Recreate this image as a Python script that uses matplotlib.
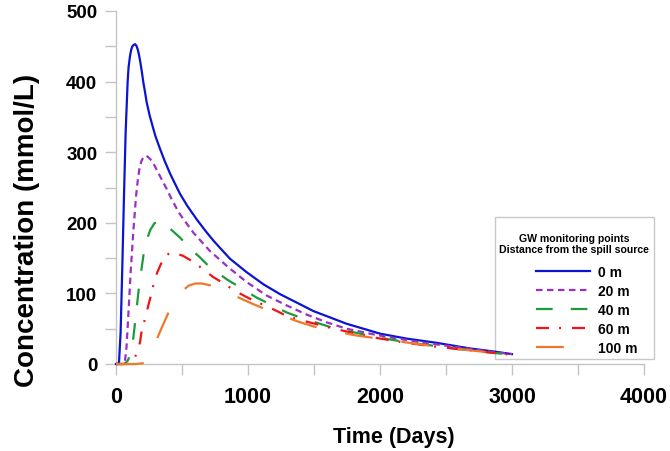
import matplotlib
matplotlib.use("Agg")
import matplotlib.pyplot as plt
from matplotlib.ticker import MultipleLocator

plt.rcParams['font.family'] = ['Liberation Sans', 'DejaVu Sans']
plt.rcParams['lines.scale_dashes'] = False

# ---- data ----
days_0m = [0, 15, 23, 35, 48, 60, 73, 88, 95, 106, 115, 124, 134, 144, 154, 164, 173, 182, 195, 207,
           220, 232, 255, 283, 300, 333, 370, 409, 440, 485, 540, 611, 680, 737, 800, 864, 990, 1116,
           1242, 1369, 1495, 1621, 1747, 1874, 2000, 2200, 2429, 2682, 2850, 3000]
conc_0m = [0, 0, 3, 45, 139, 234, 328, 399, 420, 436, 445, 450, 452, 453, 451, 446, 439, 430, 415, 399,
           385, 371, 352, 333, 322, 305, 287, 270, 258, 241, 224, 205, 188, 175, 162, 149, 130, 113,
           99, 87, 75, 66, 57, 50, 43, 36, 30, 22, 18, 14]

days_20m = [0, 55, 68, 80, 93, 111, 131, 152, 165, 177, 190, 202, 214, 225, 237, 250, 270, 295, 320,
            350, 384, 420, 460, 485, 586, 712, 851, 990, 1141, 1293, 1444, 1596, 1747, 1949, 2100,
            2300, 2500, 2700, 2850, 3000]
conc_20m = [0, 0, 4, 25, 68, 130, 187, 238, 260, 276, 286, 291, 294, 295, 294, 292, 288, 280, 271,
            260, 248, 234, 220, 212, 186, 160, 137, 116, 97, 83, 70, 59, 50, 42, 37,
            31, 26, 21, 17, 14]

days_40m = [0, 60, 75, 90, 110, 130, 150, 170, 190, 210, 235, 260, 290, 320, 360, 420, 485, 560, 636,
            700, 838, 927, 1066, 1154, 1293, 1394, 1545, 1646, 1798, 1924, 2000, 2200, 2400, 2600, 2800, 3000]
conc_40m = [0, 0, 2, 5, 15, 35, 68, 102, 130, 157, 177, 190, 199, 203, 199, 190, 179, 164, 151,
            139, 120, 110, 94, 86, 73, 66, 57, 51, 45, 40, 37, 31, 26, 21, 17, 13]

days_60m = [0, 100, 120, 145, 165, 182, 197, 220, 245, 270, 290, 313, 346, 380, 409, 450, 510, 573, 656,
            737, 801, 889, 977, 1040, 1141, 1230, 1293, 1400, 1508, 1650, 1773, 1900, 2000, 2200, 2400,
            2600, 2800, 3000]
conc_60m = [0, 0, 2, 10, 20, 31, 50, 64, 83, 101, 117, 130, 144, 153, 158, 157, 153, 146, 135,
            123, 116, 105, 96, 90, 82, 74, 68, 62, 57, 50, 45, 40, 36, 30, 25,
            21, 17, 13]

days_100m = [0, 150, 200, 230, 260, 290, 320, 360, 410, 450, 500, 550, 600, 650, 700, 750, 850, 965,
             1050, 1154, 1250, 1381, 1500, 1571, 1700, 1800, 1950, 2100, 2300, 2500, 2700, 2850, 3000]
conc_100m = [0, 0, 1, 3, 12, 25, 40, 57, 78, 92, 103, 111, 114, 114, 112, 110, 101, 91,
             84, 76, 69, 60, 53, 50, 45, 41, 37, 33, 28, 23, 19, 16, 13]

labels = ['0 m', '20 m', '40 m', '60 m', '100 m']
x_ticks = [0, 1000, 2000, 3000, 4000]
y_ticks = [0, 100, 200, 300, 400, 500]

# ---- styles ----
styles = [
    dict(color='#0A14D2', linestyle='-'),
    dict(color='#9B30C8', linestyle=(0, (4.7, 3.2))),
    dict(color='#1E9A3C', linestyle=(0, (12, 13))),
    dict(color='#F01414', linestyle=(0, (9.4, 7.2, 1.4, 7.9))),
    dict(color='#F0782A', linestyle=(0, (20, 21))),
]

fig = plt.figure(figsize=(6.7, 4.52), dpi=100)
ax = fig.add_axes([116/670, 1-365/452, (644-116)/670, (365-12)/452])

series = [(days_0m, conc_0m), (days_20m, conc_20m), (days_40m, conc_40m),
          (days_60m, conc_60m), (days_100m, conc_100m)]
handles = []
for (d, c), st, lab in zip(series, styles, labels):
    h, = ax.plot(d, c, lw=1.6, label=lab, clip_on=False, zorder=3, **st)
    handles.append(h)

ax.set_xlim(0, 4000)
ax.set_ylim(0, 500)
ax.set_xticks(x_ticks)
ax.set_yticks(y_ticks)
ax.xaxis.set_minor_locator(MultipleLocator(500))
ax.yaxis.set_minor_locator(MultipleLocator(50))

gray = '#C4C4C4'
for s in ['top', 'right']:
    ax.spines[s].set_visible(False)
for s in ['left', 'bottom']:
    ax.spines[s].set_color(gray)
    ax.spines[s].set_linewidth(1.0)

ax.tick_params(axis='both', which='both', direction='out', length=8, width=1.0, color=gray)
ax.tick_params(axis='x', which='major', pad=7.5, labelsize=15.5)
ax.tick_params(axis='y', which='major', pad=5.5, labelsize=13.5)
for t in ax.get_xticklabels() + ax.get_yticklabels():
    t.set_fontweight('bold')

fig.text(394/670, 1-438/452, 'Time (Days)', ha='center', va='center',
         fontsize=15.5, fontweight='bold')
fig.text(27.5/670, (452-230)/452, 'Concentration (mmol/L)', ha='center', va='center',
         rotation=90, fontsize=20, fontweight='bold')

leg = ax.legend(handles=handles, labels=labels[:4] + ['100 m   '],
                loc='upper left', bbox_to_anchor=(495/670, 1-218/452),
                bbox_transform=fig.transFigure, borderaxespad=0,
                title='\nGW monitoring points\nDistance from the spill source',
                title_fontproperties={'size': 7.6, 'weight': 'bold'},
                prop={'size': 10, 'weight': 'bold'},
                handlelength=3.9, handletextpad=0.58, labelspacing=0.36,
                borderpad=0.25, alignment='right', fancybox=False, frameon=True)
leg.get_title().set_multialignment('center')
leg.get_title().set_linespacing(1.15)
leg._legend_box.sep = 8.0
leg._legend_box.pad = 3.2
leg.set_zorder(2)
leg.get_frame().set_edgecolor('#BBBBBB')
leg.get_frame().set_linewidth(1.0)

fig.savefig('out.png', dpi=100)
